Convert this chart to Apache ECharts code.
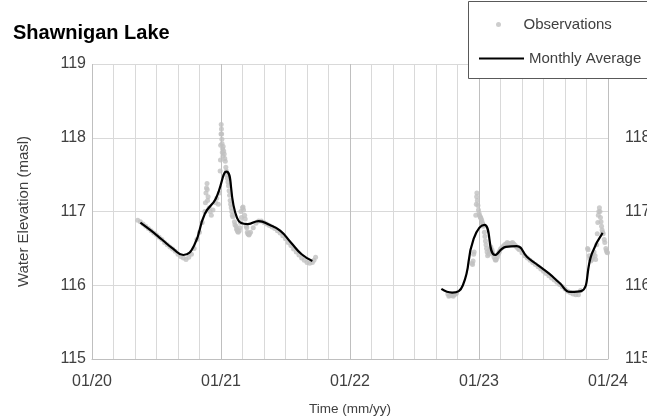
<!DOCTYPE html>
<html><head><meta charset="utf-8">
<script src="https://cdn.jsdelivr.net/npm/echarts@6/dist/echarts.min.js"></script>
<style>html,body{margin:0;padding:0;background:#fff}#c{width:647px;height:419px}</style>
</head><body><div id="c"></div>
<script>
// x values are months since Jan 2020 (0 = 01/20, 12 = 01/21, ...)
const xTickLabels = ['01/20','01/21','01/22','01/23','01/24'];
const yTicks = [115,116,117,118,119];

// Monthly average, period 1 (May 2020 - Sep 2021), plotted mid-month
const avgMonths1 = [4.5,5.5,6.5,7.5,8.5,9.5,10.5,11.5,12.5,13.5,14.5,15.5,16.5,17.5,18.5,19.5,20.5];
const avgValues1 = [116.85,116.74,116.62,116.50,116.41,116.54,116.97,117.17,117.54,116.91,116.83,116.87,116.82,116.74,116.58,116.42,116.33];
// Monthly average, period 2 (Sep 2022 - Dec 2023)
const avgMonths2 = [32.5,33.5,34.5,35.5,36.5,37.5,38.5,39.5,40.5,41.5,42.5,43.5,44.5,45.5,46.5,47.5];
const avgValues2 = [115.95,115.90,116.00,116.63,116.82,116.41,116.52,116.53,116.38,116.27,116.16,116.03,115.91,115.92,116.43,116.71];

// Observations, period 1
const obsMonths1 = [4.25,4.5,4.75,5.0,5.25,5.5,5.75,6.0,6.25,6.5,6.75,7.0,7.25,7.5,7.75,8.0,8.25,8.5,8.75,9.0,9.25,9.5,9.75,10.0,10.25,10.5,10.6,10.7,10.75,10.9,11.0,11.1,11.25,11.5,11.6,11.75,11.85,11.92,11.97,12.02,12.06,12.1,12.15,12.2,12.3,12.4,12.5,12.6,12.7,12.8,12.9,13.0,13.1,13.25,13.4,13.5,13.6,13.75,13.9,14.0,14.1,14.25,14.4,14.5,14.6,14.75,15.0,15.25,15.5,15.75,16.0,16.25,16.5,16.75,17.0,17.25,17.5,17.75,18.0,18.25,18.5,18.75,19.0,19.25,19.5,19.75,20.0,20.25,20.5,20.65,20.8,
  10.55,10.65,10.72,10.8,11.95,12.0,12.04,12.08,12.12,12.18,12.25,12.35,12.45,12.55,12.65,12.75,12.85,12.95,13.05,13.3,13.45,13.55,13.7,13.8,13.85,14.05,14.2,14.35,14.45,14.55,14.65];
const obsValues1 = [116.88,116.86,116.83,116.80,116.77,116.74,116.71,116.68,116.65,116.62,116.58,116.55,116.52,116.49,116.46,116.42,116.39,116.37,116.35,116.38,116.42,116.50,116.62,116.72,116.85,117.00,117.25,117.38,117.15,117.05,117.00,116.95,117.02,117.12,117.18,117.10,117.25,117.55,117.90,118.18,118.05,117.92,117.85,117.88,117.78,117.68,117.55,117.45,117.35,117.22,117.10,117.00,116.93,116.86,116.80,116.75,116.72,116.78,116.92,117.05,117.02,116.90,116.78,116.70,116.68,116.72,116.78,116.84,116.87,116.87,116.85,116.83,116.81,116.79,116.77,116.74,116.71,116.67,116.63,116.58,116.54,116.49,116.45,116.41,116.37,116.34,116.31,116.30,116.31,116.34,116.38,
  117.12,117.32,117.30,117.20,117.70,118.05,118.12,117.98,117.80,117.75,117.82,117.72,117.60,117.50,117.40,117.28,117.15,117.05,116.95,116.82,116.76,116.73,116.74,116.85,117.00,117.06,116.95,116.80,116.72,116.69,116.70];
// Observations, period 2
const obsMonths2 = [33.1,33.3,33.5,33.7,33.9,35.35,35.45,35.55,35.7,35.8,35.85,35.95,36.05,36.15,36.25,36.4,36.55,36.7,36.8,36.95,37.1,37.25,37.4,37.55,37.7,37.85,38.0,38.25,38.5,38.75,39.0,39.25,39.5,39.75,40.0,40.25,40.5,40.75,41.0,41.25,41.5,41.75,42.0,42.25,42.5,42.75,43.0,43.25,43.5,43.75,44.0,44.25,44.5,44.75,45.0,45.25,45.45,46.1,46.25,46.4,46.55,46.7,46.85,47.0,47.1,47.2,47.3,47.4,47.55,47.7,47.85,47.95,
  33.2,33.4,33.6,33.8,35.4,35.5,35.75,35.78,35.9,36.0,36.1,36.2,36.3,36.35,36.5,36.6,36.65,36.75,36.9,37.0,37.05,37.2,37.3,37.5,37.6,37.8,37.9,38.12,38.38,38.62,38.88,39.12,39.38,39.62,
  46.15,46.3,46.5,46.6,46.8,46.95,47.05,47.15,47.25,47.35,47.45,47.5,47.65,47.8,47.9];
const obsValues2 = [115.88,115.86,115.86,115.87,115.89,116.30,116.33,116.45,116.95,117.25,117.15,117.02,116.95,116.92,116.88,116.80,116.66,116.50,116.40,116.45,116.52,116.45,116.38,116.34,116.38,116.44,116.49,116.53,116.56,116.57,116.57,116.56,116.52,116.48,116.44,116.40,116.37,116.34,116.31,116.28,116.25,116.22,116.19,116.16,116.13,116.10,116.07,116.04,116.01,115.98,115.95,115.92,115.90,115.88,115.87,115.87,115.93,116.50,116.40,116.33,116.38,116.45,116.35,116.70,116.95,117.05,116.92,116.80,116.70,116.58,116.47,116.44,
  115.85,115.87,115.85,115.88,116.28,116.42,117.10,117.20,117.08,116.98,116.93,116.90,116.85,116.83,116.72,116.60,116.55,116.45,116.42,116.48,116.50,116.48,116.42,116.35,116.35,116.42,116.46,116.51,116.55,116.58,116.56,116.58,116.54,116.50,
  116.48,116.36,116.35,116.42,116.40,116.55,116.85,117.00,117.00,116.86,116.75,116.72,116.62,116.50,116.45];

const zip = (a, b) => a.map((x, i) => [x, b[i]]);
const FONT = "'Liberation Sans', Arial, sans-serif";
const LBL = '#404040';

const chart = echarts.init(document.getElementById('c'), null, {renderer: 'canvas'});
chart.setOption({
  animation: false,
  backgroundColor: '#fff',
  textStyle: {fontFamily: FONT},
  title: {
    text: 'Shawnigan Lake', left: 8, top: 18,
    textStyle: {fontFamily: FONT, fontSize: 20, fontWeight: 'bold', color: '#000'}
  },
  grid: {left: 92, right: 39, top: 64, bottom: 60, containLabel: false, outerBoundsMode: 'none'},
  xAxis: {
    type: 'value', min: 0, max: 48, interval: 2,
    name: 'Time (mm/yy)', nameLocation: 'middle', nameGap: 43,
    nameTextStyle: {fontFamily: FONT, fontSize: 13.5, color: LBL},
    axisLine: {show: true, lineStyle: {color: '#bfbfbf', width: 1}},
    axisTick: {show: false},
    axisLabel: {
      fontFamily: FONT, fontSize: 16, color: LBL, margin: 15, showMinLabel: true, showMaxLabel: true,
      formatter: v => (v % 12 === 0 ? xTickLabels[v / 12] : '')
    },
    splitLine: {show: true, lineStyle: {color: ['#bfbfbf','#d9d9d9','#d9d9d9','#d9d9d9','#d9d9d9','#d9d9d9'], width: 1}}
  },
  yAxis: [{
    type: 'value', min: yTicks[0], max: yTicks[yTicks.length - 1], interval: 1,
    name: 'Water Elevation (masl)', nameLocation: 'middle', nameGap: 61, nameRotate: 90,
    nameTextStyle: {fontFamily: FONT, fontSize: 15, color: LBL},
    axisLine: {show: false}, axisTick: {show: false},
    axisLabel: {fontFamily: FONT, fontSize: 16, color: LBL, margin: 6},
    splitLine: {show: true, lineStyle: {color: '#d9d9d9', width: 1}}
  }, {
    type: 'value', position: 'right', min: yTicks[0], max: yTicks[yTicks.length - 1], interval: 1,
    axisLine: {show: false}, axisTick: {show: false},
    axisLabel: {fontFamily: FONT, fontSize: 16, color: LBL, margin: 17},
    splitLine: {show: false}
  }],
  graphic: [{
    type: 'rect', left: 468, top: 1, z: 50,
    shape: {width: 200, height: 77},
    style: {fill: '#fff', stroke: '#595959', lineWidth: 1}
  }],
  legend: [{
    data: [{name: 'Observations', icon: 'circle'}],
    left: 496, top: 17, padding: 0, z: 60,
    itemWidth: 40, itemHeight: 5, itemGap: 0,
    textStyle: {fontFamily: FONT, fontSize: 15, color: LBL}
  }, {
    data: [{name: 'Monthly Average', icon: 'rect'}],
    left: 479, top: 51, padding: 0, z: 60,
    itemWidth: 45, itemHeight: 2,
    itemStyle: {color: '#000'},
    textStyle: {fontFamily: FONT, fontSize: 15, color: LBL}
  }],
  series: [{
    name: 'Observations', type: 'scatter', symbolSize: 5,
    itemStyle: {color: '#c0c0c0'},
    data: zip(obsMonths1, obsValues1).concat(zip(obsMonths2, obsValues2)),
    z: 2
  }, {
    name: 'Monthly Average', type: 'line', smooth: 0.5, symbol: 'none',
    lineStyle: {color: '#000', width: 2.2}, itemStyle: {color: '#000'},
    data: zip(avgMonths1, avgValues1), z: 3
  }, {
    name: 'Monthly Average', type: 'line', smooth: 0.5, symbol: 'none',
    lineStyle: {color: '#000', width: 2.2}, itemStyle: {color: '#000'},
    data: zip(avgMonths2, avgValues2), z: 3
  }]
});
</script></body></html>
